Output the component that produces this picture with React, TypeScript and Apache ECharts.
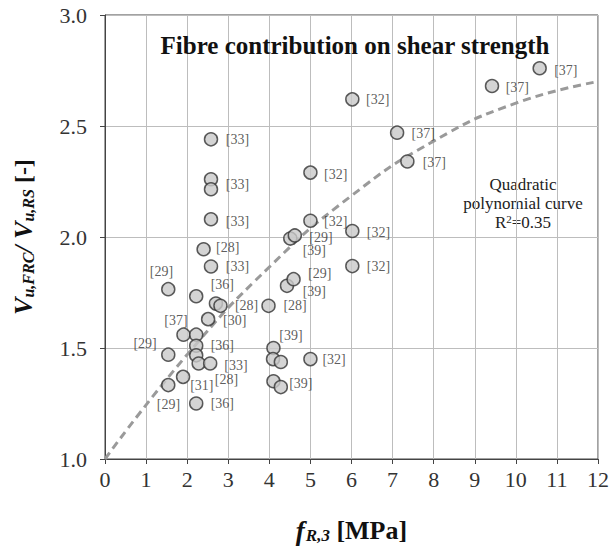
import React, { useEffect, useRef } from "react";
import * as echarts from "echarts";

// measured points [fR3, Vu,FRC/Vu,RS]
const points: [number, number][] = [
  [2.58, 2.44], [2.58, 2.26], [2.58, 2.215], [2.58, 2.08], [2.40, 1.945], [2.58, 1.867],
  [1.54, 1.765], [2.22, 1.733], [2.70, 1.70], [2.81, 1.69], [3.98, 1.69], [2.51, 1.63],
  [1.91, 1.56], [2.22, 1.56], [2.22, 1.51], [2.22, 1.467], [2.28, 1.43], [2.56, 1.43],
  [1.54, 1.47], [1.90, 1.37], [1.54, 1.333], [2.22, 1.25], [4.10, 1.50], [4.09, 1.45],
  [4.28, 1.437], [4.10, 1.35], [4.28, 1.324], [4.43, 1.78], [4.59, 1.81], [5.0, 1.45],
  [4.51, 1.993], [4.62, 2.007], [5.0, 2.073], [6.02, 2.027], [6.02, 1.869], [5.0, 2.29],
  [6.02, 2.62], [7.11, 2.47], [7.36, 2.34], [9.42, 2.68], [10.58, 2.76],
];

// reference labels [x, y, text] (text anchored at its left edge, vertical middle)
const refLabels: [number, number, string][] = [
  [2.93, 2.44, "[33]"], [2.93, 2.235, "[33]"], [2.93, 2.07, "[33]"], [2.69, 1.953, "[28]"],
  [2.93, 1.866, "[33]"], [1.08, 1.843, "[29]"], [2.56, 1.784, "[36]"], [3.15, 1.69, "[28]"],
  [4.33, 1.69, "[28]"], [2.86, 1.624, "[30]"], [1.43, 1.624, "[37]"], [0.68, 1.52, "[29]"],
  [2.56, 1.51, "[36]"], [2.89, 1.42, "[33]"], [2.06, 1.333, "[31]"], [2.66, 1.358, "[28]"],
  [1.25, 1.244, "[29]"], [2.56, 1.248, "[36]"], [4.23, 1.555, "[39]"], [4.47, 1.34, "[39]"],
  [5.28, 1.449, "[32]"], [4.93, 1.837, "[29]"], [4.80, 1.755, "[39]"], [4.96, 2.0, "[29]"],
  [4.80, 1.94, "[39]"], [5.32, 2.07, "[32]"], [6.36, 2.02, "[32]"], [6.36, 1.866, "[32]"],
  [5.32, 2.28, "[32]"], [6.34, 2.62, "[32]"], [7.45, 2.465, "[37]"], [7.72, 2.336, "[37]"],
  [9.74, 2.675, "[37]"], [10.92, 2.752, "[37]"],
];

// quadratic fit curve
const curveX = [0, 2, 4, 6, 8, 10, 12];
const curveY = [1.0, 1.47, 1.865, 2.186, 2.432, 2.603, 2.70];

const xTicks = [0, 12, 1];
const yTicks = [1.0, 3.0, 0.5];

const SERIF = "Liberation Serif";

export default function App() {
  const ref = useRef<HTMLDivElement>(null);
  useEffect(() => {
    if (!ref.current) return;
    const chart = echarts.init(ref.current, null, { renderer: "svg" });
    chart.setOption({
      animation: false,
      backgroundColor: "#fff",
      textStyle: { fontFamily: SERIF },
      title: {
        text: "Fibre contribution on shear strength",
        left: 350,
        top: 28,
        textAlign: "center",
        textStyle: { fontFamily: SERIF, fontWeight: "bold", fontSize: 25, color: "#111" },
      },
      grid: {
        left: 105, right: 16, top: 15, bottom: 77,
        show: true, borderColor: "#444", borderWidth: 1,
      },
      xAxis: {
        type: "value",
        min: xTicks[0], max: xTicks[1], interval: xTicks[2],
        axisLine: { lineStyle: { color: "#444", width: 1 } },
        axisTick: { show: true, length: 5, lineStyle: { color: "#444" } },
        splitLine: { show: true, lineStyle: { color: "#bdbdbd", width: 1 } },
        axisLabel: { fontFamily: SERIF, fontSize: 22, color: "#333", margin: 9 },
        name: "{f|f}{s|R,3}{b| [MPa]}",
        nameLocation: "middle",
        nameGap: 58,
        nameTextStyle: {
          rich: {
            f: { fontFamily: SERIF, fontSize: 27, fontWeight: "bold", fontStyle: "italic", color: "#111" },
            s: { fontFamily: SERIF, fontSize: 17, fontWeight: "bold", fontStyle: "italic", color: "#111", padding: [10, 0, 0, 1] },
            b: { fontFamily: SERIF, fontSize: 26, fontWeight: "bold", color: "#111" },
          },
        },
      },
      yAxis: {
        type: "value",
        min: yTicks[0], max: yTicks[1], interval: yTicks[2],
        axisLine: { show: true, lineStyle: { color: "#444", width: 1 } },
        axisTick: { show: true, length: 5, lineStyle: { color: "#444" } },
        splitLine: { show: true, lineStyle: { color: "#bdbdbd", width: 1 } },
        axisLabel: {
          fontFamily: SERIF, fontSize: 22, color: "#333", margin: 18,
          formatter: (v: number) => v.toFixed(1),
        },
        name: "{v|V}{s|u,FRC}{v|/ V}{s|u,RS}{b| [-]}",
        nameLocation: "middle",
        nameRotate: 90,
        nameGap: 69,
        nameTextStyle: {
          rich: {
            v: { fontFamily: SERIF, fontSize: 26, fontWeight: "bold", fontStyle: "italic", color: "#111" },
            s: { fontFamily: SERIF, fontSize: 16, fontWeight: "bold", fontStyle: "italic", color: "#111", padding: [10, 0, 0, 0] },
            b: { fontFamily: SERIF, fontSize: 24, fontWeight: "bold", color: "#111" },
          },
        },
      },
      graphic: [
        {
          type: "text", x: 523, y: 175,
          style: {
            text: "Quadratic\npolynomial curve\n{t|R}{sup|2}{t|=0.35}",
            x: 0, y: 0,
            align: "center",
            textAlign: "center",
            fontFamily: SERIF, fontSize: 17, lineHeight: 19, fill: "#222",
            rich: {
              t: { fontFamily: SERIF, fontSize: 17, fill: "#222" },
              sup: { fontFamily: SERIF, fontSize: 11, fill: "#222", padding: [0, 0, 7, 0] },
            },
          },
        },
      ],
      series: [
        {
          type: "line",
          data: curveX.map((x, i) => [x, curveY[i]]),
          smooth: true,
          symbol: "none",
          lineStyle: { color: "#9a9a9a", width: 3, type: [8, 5] },
          z: 2,
        },
        {
          type: "scatter",
          data: points,
          symbol: "circle",
          symbolSize: 13,
          itemStyle: { color: "#c9c9c9", borderColor: "#333", borderWidth: 1.5 },
          z: 3,
        },
        {
          type: "scatter",
          data: refLabels.map((d) => ({ value: [d[0], d[1]], name: d[2] })),
          symbolSize: 1,
          itemStyle: { color: "rgba(0,0,0,0)" },
          label: {
            show: true,
            position: "right",
            distance: 0,
            formatter: (p: any) => p.name,
            fontFamily: SERIF,
            fontSize: 14,
            color: "#333",
          },
          emphasis: { disabled: true },
          z: 4,
        },
      ],
    });
    return () => chart.dispose();
  }, []);
  return <div ref={ref} style={{ width: 614, height: 549, position: "absolute", left: 0, top: 0 }} />;
}
